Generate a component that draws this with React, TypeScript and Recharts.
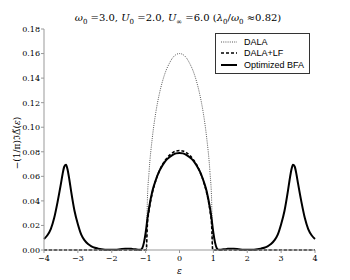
import { LineChart, Line, XAxis, YAxis, Label } from 'recharts'

// energy grid (epsilon)
const xs = [
  -4, -3.9, -3.8, -3.7, -3.6, -3.5, -3.45, -3.4, -3.35, -3.3, -3.25, -3.2, -3.1, -3, -2.9, -2.8,
  -2.7, -2.6, -2.5, -2.4, -2.3, -2.2, -2.1, -2, -1.9, -1.8, -1.7, -1.6, -1.5, -1.4, -1.3, -1.2,
  -1.15, -1.1, -1.05, -1, -0.98, -0.95, -0.9, -0.8, -0.7, -0.6, -0.5, -0.4, -0.3, -0.2, -0.1, 0,
  0.1, 0.2, 0.3, 0.4, 0.5, 0.6, 0.7, 0.8, 0.9, 0.95, 0.98, 1, 1.05, 1.1, 1.15, 1.2, 1.3, 1.4,
  1.5, 1.6, 1.7, 1.8, 1.9, 2, 2.1, 2.2, 2.3, 2.4, 2.5, 2.6, 2.7, 2.8, 2.9, 3, 3.1, 3.2, 3.25,
  3.3, 3.35, 3.4, 3.45, 3.5, 3.6, 3.7, 3.8, 3.9, 4,
]

const dala = [
  0, 0, 0, 0, 0, 0, 0, 0, 0, 0, 0, 0, 0, 0, 0, 0,
  0, 0, 0, 0, 0, 0, 0, 0, 0, 0, 0, 0, 0, 0, 0, 0,
  0, 0, 0, 0, 0, 0.039, 0.063, 0.092, 0.112, 0.1265, 0.1376, 0.146, 0.152, 0.1566, 0.1592, 0.16,
  0.1592, 0.1566, 0.152, 0.146, 0.1376, 0.1265, 0.112, 0.092, 0.063, 0.039, 0, 0, 0, 0, 0, 0, 0, 0,
  0, 0, 0, 0, 0, 0, 0, 0, 0, 0, 0, 0, 0, 0, 0, 0, 0, 0, 0,
  0, 0, 0, 0, 0, 0, 0, 0, 0, 0,
]

const dalaLf = [
  0, 0, 0, 0, 0, 0, 0, 0, 0, 0, 0, 0, 0, 0, 0, 0,
  0, 0, 0, 0, 0, 0, 0, 0, 0, 0, 0, 0, 0, 0, 0, 0,
  0, 0, 0, 0, 0, 0.02, 0.032, 0.0468, 0.0567, 0.064, 0.0697, 0.0739, 0.0771, 0.0793, 0.0806, 0.081,
  0.0806, 0.0793, 0.0771, 0.0739, 0.0697, 0.064, 0.0567, 0.0468, 0.032, 0.02, 0, 0, 0, 0, 0, 0, 0, 0,
  0, 0, 0, 0, 0, 0, 0, 0, 0, 0, 0, 0, 0, 0, 0, 0, 0, 0, 0,
  0, 0, 0, 0, 0, 0, 0, 0, 0, 0,
]

const bfa = [
  0.009, 0.012, 0.017, 0.026, 0.039, 0.054, 0.062, 0.068, 0.0695, 0.065, 0.057, 0.048, 0.032, 0.021, 0.0125, 0.0078,
  0.0048, 0.003, 0.0018, 0.0011, 0.0006, 0.0003, 0.0002, 0.0002, 0.0003, 0.0005, 0.0008, 0.001, 0.0011, 0.0009, 0.0006, 0.0002,
  0.0003, 0.0015, 0.006, 0.014, 0.018, 0.025, 0.034, 0.048, 0.057, 0.064, 0.069, 0.073, 0.0755, 0.0775, 0.0787, 0.079,
  0.0787, 0.0775, 0.0755, 0.073, 0.069, 0.064, 0.057, 0.048, 0.034, 0.025, 0.018, 0.014, 0.006, 0.0015, 0.0003, 0.0002, 0.0006, 0.0009,
  0.0011, 0.001, 0.0008, 0.0005, 0.0003, 0.0002, 0.0002, 0.0003, 0.0006, 0.0011, 0.0018, 0.003, 0.0048, 0.0078, 0.0125, 0.021, 0.032, 0.048, 0.057,
  0.065, 0.0695, 0.068, 0.062, 0.054, 0.039, 0.026, 0.017, 0.012, 0.009,
]

const xTicks = [-4, -3, -2, -1, 0, 1, 2, 3, 4]
const yTicks = [0, 0.02, 0.04, 0.06, 0.08, 0.1, 0.12, 0.14, 0.16, 0.18]

const data = xs.map((x, i) => ({ x, dala: dala[i], dalaLf: dalaLf[i], bfa: bfa[i] }))

const axisGray = '#999'
const serif = '"DejaVu Serif", serif'

function LegendBox() {
  const rows = [
    { name: 'DALA', dash: '1 1.2', color: '#555', w: 1 },
    { name: 'DALA+LF', dash: '3 2', color: '#000', w: 1.6 },
    { name: 'Optimized BFA', dash: undefined, color: '#000', w: 2 },
  ]
  return (
    <div
      style={{
        position: 'absolute',
        left: 215,
        top: 33,
        width: 93,
        height: 39,
        border: '1px solid #333',
        background: '#fff',
        fontFamily: '"Liberation Sans", Arial, sans-serif',
        fontSize: 9,
      }}
    >
      {rows.map((r, i) => (
        <div key={r.name} style={{ position: 'absolute', left: 5, top: 2 + i * 11.5, height: 11, display: 'flex', alignItems: 'center' }}>
          <svg width={16} height={6} style={{ marginRight: 7 }}>
            <line x1={0} y1={3} x2={16} y2={3} stroke={r.color} strokeWidth={r.w} strokeDasharray={r.dash} />
          </svg>
          <span>{r.name}</span>
        </div>
      ))}
    </div>
  )
}

export default function App() {
  return (
    <div style={{ position: 'absolute', left: 0, top: 0, width: 350, height: 280, background: '#fff' }}>
      <div
        style={{
          position: 'absolute',
          left: 0,
          width: 356,
          top: 12,
          textAlign: 'center',
          fontFamily: serif,
          fontSize: 10,
          whiteSpace: 'nowrap',
        }}
      >
        <i>ω</i><sub style={{ fontSize: 7 }}>0</sub> =3.0, <i>U</i><sub style={{ fontSize: 7 }}>0</sub> =2.0,{' '}
        <i>U</i><sub style={{ fontSize: 7 }}>∞</sub> =6.0 (<i>λ</i><sub style={{ fontSize: 7 }}>0</sub>/<i>ω</i>
        <sub style={{ fontSize: 7 }}>0</sub> ≈0.82)
      </div>
      <LineChart width={350} height={280} data={data} margin={{ top: 29, right: 35, bottom: 0, left: 0 }}>
        <XAxis
          dataKey="x"
          type="number"
          domain={[-4, 4]}
          ticks={xTicks}
          tickFormatter={(v: number) => String(v).replace('-', '−')}
          stroke={axisGray}
          tickSize={3}
          tick={{ fontSize: 8, fontFamily: serif, fill: '#000' }}
          height={30}
        >
          <Label value="ε" position="insideBottom" offset={6} style={{ fontSize: 9, fontFamily: serif, fontStyle: 'italic', fill: '#000' }} />
        </XAxis>
        <YAxis
          type="number"
          domain={[0, 0.18]}
          ticks={yTicks}
          tickFormatter={(v: number) => v.toFixed(2)}
          stroke={axisGray}
          tickSize={3}
          tickMargin={1}
          tick={{ fontSize: 8, fontFamily: serif, fill: '#000' }}
          width={44}
        />
        <Line type="monotone" dataKey="dala" stroke="#555" strokeWidth={1} strokeDasharray="1 1.2" dot={false} isAnimationActive={false} />
        <Line type="monotone" dataKey="bfa" stroke="#000" strokeWidth={2} dot={false} isAnimationActive={false} />
        <Line type="monotone" dataKey="dalaLf" stroke="#000" strokeWidth={1.6} strokeDasharray="3 2" dot={false} isAnimationActive={false} />
      </LineChart>
      <svg width={30} height={280} style={{ position: 'absolute', left: 0, top: 0 }}>
        <text
          transform="translate(20,143) rotate(-90)"
          textAnchor="middle"
          style={{ fontSize: 9, fontFamily: serif, fill: '#000' }}
        >
          −(1/π)ℑΔ̃(<tspan fontStyle="italic">ε</tspan>)
        </text>
      </svg>
      <LegendBox />
    </div>
  )
}
